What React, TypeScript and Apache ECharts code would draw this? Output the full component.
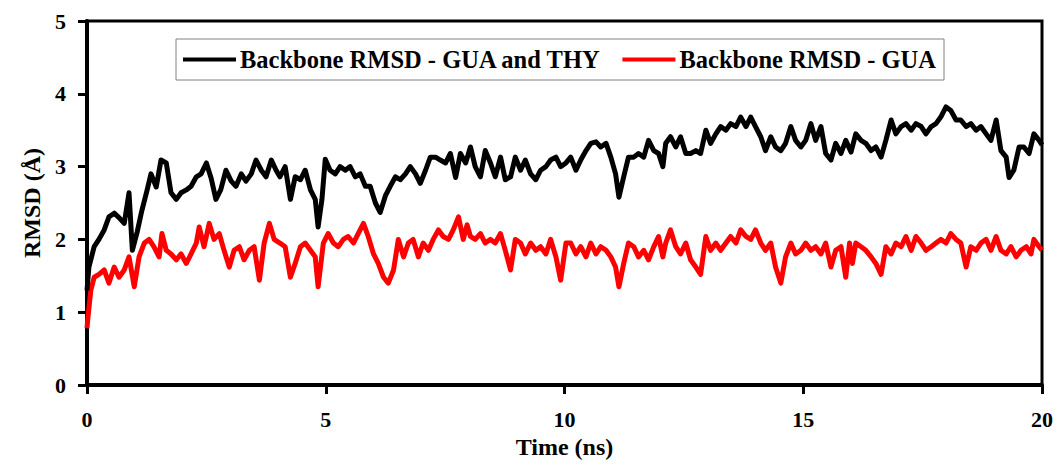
import React, { useEffect, useRef } from "react";
import * as echarts from "echarts";

const xTicks = [0, 5, 10, 15, 20];
const yTicks = [0, 1, 2, 3, 4, 5];

const seriesNames = ["Backbone RMSD - GUA and THY", "Backbone RMSD - GUA"];

const guaThyTime = [
  0.0, 0.04, 0.15, 0.25, 0.36, 0.46, 0.57, 0.67, 0.78, 0.88, 0.95, 1.05, 1.15, 1.26, 1.34, 1.45, 1.55, 1.66, 1.76, 1.87,
  1.97, 2.08, 2.18, 2.29, 2.39, 2.5, 2.6, 2.7, 2.8, 2.91, 3.02, 3.12, 3.23, 3.33, 3.44, 3.54, 3.65, 3.75, 3.86, 3.96,
  4.04, 4.15, 4.26, 4.36, 4.47, 4.57, 4.68, 4.78, 4.84, 4.92, 4.99, 5.09, 5.2, 5.3, 5.41, 5.51, 5.62, 5.72, 5.83, 5.93,
  6.04, 6.14, 6.25, 6.35, 6.46, 6.56, 6.67, 6.77, 6.88, 6.98, 7.09, 7.19, 7.3, 7.4, 7.51, 7.61, 7.72, 7.82, 7.93, 8.03,
  8.13, 8.24, 8.34, 8.45, 8.55, 8.66, 8.76, 8.87, 8.97, 9.08, 9.18, 9.29, 9.4, 9.5, 9.61, 9.71, 9.82, 9.92, 10.03, 10.13,
  10.24, 10.34, 10.45, 10.55, 10.66, 10.76, 10.87, 10.97, 11.07, 11.14, 11.24, 11.34, 11.45, 11.55, 11.66, 11.76, 11.87, 11.97, 12.06, 12.12,
  12.22, 12.33, 12.43, 12.54, 12.64, 12.75, 12.85, 12.96, 13.06, 13.17, 13.27, 13.38, 13.48, 13.59, 13.69, 13.8, 13.9, 14.0, 14.11, 14.21,
  14.32, 14.42, 14.53, 14.63, 14.74, 14.84, 14.95, 15.05, 15.16, 15.26, 15.37, 15.47, 15.58, 15.68, 15.79, 15.89, 16.0, 16.1, 16.21, 16.31,
  16.42, 16.52, 16.63, 16.73, 16.84, 16.94, 17.05, 17.15, 17.26, 17.36, 17.47, 17.57, 17.68, 17.78, 17.88, 17.99, 18.09, 18.2, 18.3, 18.41,
  18.51, 18.62, 18.72, 18.83, 18.93, 19.04, 19.14, 19.25, 19.31, 19.41, 19.52, 19.62, 19.73, 19.83, 19.94, 20.0,
];
const guaThyRmsd = [
  1.3, 1.62, 1.9, 2.0, 2.13, 2.31, 2.36, 2.3, 2.22, 2.64, 1.85, 2.1, 2.4, 2.68, 2.9, 2.72, 3.09, 3.05, 2.64, 2.55,
  2.64, 2.68, 2.73, 2.86, 2.9, 3.05, 2.84, 2.55, 2.68, 2.95, 2.8, 2.73, 2.9, 2.8, 2.9, 3.09, 2.95, 2.86, 3.09, 2.95,
  2.86, 3.0, 2.55, 2.86, 2.82, 2.95, 2.68, 2.55, 2.17, 2.55, 3.1, 2.95, 2.9, 3.0, 2.95, 3.0, 2.86, 2.9, 2.73, 2.73,
  2.5, 2.37, 2.6, 2.73, 2.86, 2.82, 2.9, 3.0, 2.9, 2.77, 2.95, 3.13, 3.13, 3.09, 3.05, 3.18, 2.85, 3.18, 3.05, 3.27,
  3.0, 2.86, 3.22, 3.05, 2.86, 3.13, 2.82, 2.86, 3.13, 2.95, 3.09, 2.9, 2.82, 2.95, 3.0, 3.09, 3.13, 3.0, 3.05, 3.13,
  2.95, 3.09, 3.22, 3.32, 3.34, 3.27, 3.32, 3.13, 2.9, 2.58, 2.86, 3.13, 3.13, 3.18, 3.13, 3.36, 3.22, 3.18, 3.0, 3.32,
  3.41, 3.27, 3.41, 3.18, 3.18, 3.22, 3.18, 3.5, 3.32, 3.45, 3.55, 3.5, 3.59, 3.55, 3.68, 3.55, 3.68, 3.55, 3.41, 3.22,
  3.41, 3.27, 3.22, 3.32, 3.55, 3.36, 3.27, 3.36, 3.59, 3.36, 3.55, 3.18, 3.09, 3.32, 3.18, 3.36, 3.2, 3.45, 3.36, 3.32,
  3.22, 3.27, 3.13, 3.36, 3.64, 3.45, 3.55, 3.59, 3.5, 3.59, 3.55, 3.45, 3.55, 3.59, 3.68, 3.82, 3.77, 3.64, 3.64, 3.55,
  3.59, 3.5, 3.55, 3.45, 3.36, 3.64, 3.22, 3.13, 2.85, 2.95, 3.27, 3.27, 3.18, 3.45, 3.36, 3.3,
];

const guaTime = [
  0.0, 0.02, 0.08, 0.15, 0.25, 0.36, 0.46, 0.57, 0.67, 0.78, 0.88, 0.99, 1.09, 1.2, 1.3, 1.4, 1.51, 1.57, 1.66, 1.76,
  1.87, 1.97, 2.08, 2.18, 2.29, 2.35, 2.45, 2.56, 2.66, 2.77, 2.87, 2.98, 3.08, 3.19, 3.29, 3.4, 3.5, 3.61, 3.71, 3.82,
  3.92, 4.04, 4.15, 4.26, 4.36, 4.47, 4.57, 4.68, 4.78, 4.84, 4.95, 5.05, 5.16, 5.26, 5.37, 5.47, 5.58, 5.68, 5.79, 5.89,
  6.0, 6.1, 6.21, 6.31, 6.42, 6.52, 6.63, 6.73, 6.83, 6.94, 7.04, 7.15, 7.25, 7.36, 7.46, 7.57, 7.67, 7.78, 7.88, 7.96,
  8.03, 8.13, 8.24, 8.34, 8.45, 8.55, 8.66, 8.76, 8.87, 8.97, 9.08, 9.18, 9.29, 9.4, 9.5, 9.61, 9.71, 9.82, 9.92, 10.03,
  10.13, 10.24, 10.34, 10.45, 10.55, 10.66, 10.76, 10.87, 10.97, 11.07, 11.14, 11.24, 11.34, 11.45, 11.55, 11.66, 11.76, 11.87, 11.97, 12.06,
  12.12, 12.22, 12.33, 12.43, 12.54, 12.64, 12.75, 12.85, 12.96, 13.06, 13.17, 13.27, 13.38, 13.48, 13.59, 13.69, 13.8, 13.9, 14.0, 14.11,
  14.21, 14.32, 14.42, 14.53, 14.63, 14.74, 14.84, 14.95, 15.05, 15.16, 15.26, 15.37, 15.47, 15.58, 15.68, 15.79, 15.89, 15.97, 16.03, 16.1,
  16.21, 16.31, 16.42, 16.52, 16.63, 16.73, 16.84, 16.94, 17.05, 17.15, 17.26, 17.36, 17.47, 17.57, 17.68, 17.78, 17.88, 17.99, 18.09, 18.2,
  18.3, 18.41, 18.51, 18.62, 18.72, 18.83, 18.93, 19.04, 19.14, 19.25, 19.35, 19.46, 19.56, 19.67, 19.77, 19.83, 19.94, 20.0,
];
const guaRmsd = [
  0.78, 0.93, 1.3, 1.48, 1.52, 1.58, 1.4, 1.62, 1.48, 1.58, 1.76, 1.35, 1.76, 1.95, 2.0, 1.9, 1.76, 2.08, 1.85, 1.8,
  1.72, 1.8, 1.67, 1.8, 1.95, 2.17, 1.9, 2.22, 2.0, 2.08, 1.85, 1.62, 1.85, 1.9, 1.72, 1.85, 1.9, 1.44, 1.95, 2.22,
  2.0, 1.95, 1.9, 1.48, 1.67, 1.9, 1.95, 1.85, 1.76, 1.35, 1.95, 2.08, 1.95, 1.9, 2.0, 2.04, 1.95, 2.08, 2.22, 2.04,
  1.8, 1.67, 1.48, 1.4, 1.58, 2.0, 1.76, 1.95, 2.0, 1.76, 1.95, 1.85, 2.0, 2.13, 2.04, 2.0, 2.13, 2.31, 2.0, 2.2,
  2.04, 2.0, 2.08, 1.95, 2.0, 1.95, 2.08, 1.85, 1.58, 2.0, 1.95, 1.8, 1.95, 1.85, 1.9, 1.8, 2.0, 1.76, 1.44, 1.95,
  1.95, 1.8, 1.9, 1.76, 1.95, 1.8, 1.9, 1.85, 1.76, 1.62, 1.35, 1.67, 1.95, 1.9, 1.76, 1.85, 1.72, 1.9, 2.04, 1.76,
  1.95, 2.13, 1.9, 1.8, 1.95, 1.72, 1.62, 1.52, 2.04, 1.85, 1.95, 1.85, 1.95, 2.04, 1.95, 2.13, 2.04, 2.0, 2.13, 1.95,
  1.85, 1.95, 1.62, 1.4, 1.76, 1.95, 1.8, 1.85, 1.95, 1.85, 1.9, 1.8, 1.95, 1.62, 1.85, 1.9, 1.48, 1.95, 1.67, 1.95,
  1.9, 1.85, 1.76, 1.67, 1.52, 1.9, 1.8, 1.95, 1.9, 2.04, 1.85, 2.04, 1.95, 1.85, 1.9, 1.95, 2.0, 1.95, 2.08, 2.0,
  1.95, 1.62, 1.9, 1.85, 1.95, 2.0, 1.85, 2.04, 1.85, 1.8, 1.9, 1.76, 1.85, 1.9, 1.8, 2.0, 1.9, 1.85,
];

const FONT = "'Liberation Serif', 'Times New Roman', serif";

export default function App() {
  const ref = useRef<HTMLDivElement>(null);

  useEffect(() => {
    if (!ref.current) return;
    const chart = echarts.init(ref.current, undefined, { renderer: "svg" });
    const pairs = (t: number[], v: number[]) => t.map((x, i) => [x, v[i]]);
    chart.setOption({
      animation: false,
      backgroundColor: "#ffffff",
      grid: {
        left: 87,
        right: 15,
        top: 21,
        bottom: 81,
        show: true,
        borderColor: "#000",
        borderWidth: 3,
        backgroundColor: "transparent",
      },
      legend: {
        data: seriesNames,
        left: 176,
        top: 39,
        padding: [8, 8, 8, 7],
        itemGap: 21,
        itemWidth: 53,
        itemHeight: 4,
        icon: "rect",
        borderColor: "#808080",
        borderWidth: 1,
        backgroundColor: "#ffffff",
        textStyle: {
          fontFamily: FONT,
          fontWeight: "bold",
          fontSize: 24.5,
          color: "#000",
          padding: [0, 0, 0, -1],
        },
      },
      xAxis: {
        type: "value",
        min: xTicks[0],
        max: xTicks[xTicks.length - 1],
        interval: 5,
        name: "Time (ns)",
        nameLocation: "middle",
        nameGap: 50,
        nameTextStyle: { fontFamily: FONT, fontWeight: "bold", fontSize: 24, color: "#000" },
        axisLine: { show: true, onZero: false, lineStyle: { color: "#000", width: 4 } },
        axisTick: { show: true, inside: false, length: 9, lineStyle: { color: "#000", width: 3 } },
        axisLabel: { margin: 23, fontFamily: FONT, fontWeight: "bold", fontSize: 22, color: "#000" },
        splitLine: { show: false },
      },
      yAxis: {
        type: "value",
        min: yTicks[0],
        max: yTicks[yTicks.length - 1],
        interval: 1,
        name: "RMSD (Å)",
        nameLocation: "middle",
        nameGap: 43,
        nameTextStyle: { fontFamily: FONT, fontWeight: "bold", fontSize: 24, color: "#000" },
        axisLine: { show: true, onZero: false, lineStyle: { color: "#000", width: 4 } },
        axisTick: { show: true, inside: false, length: 9, lineStyle: { color: "#000", width: 3 } },
        axisLabel: { margin: 21, fontFamily: FONT, fontWeight: "bold", fontSize: 22, color: "#000" },
        splitLine: { show: false },
      },
      series: [
        {
          name: seriesNames[1],
          type: "line",
          data: pairs(guaTime, guaRmsd),
          showSymbol: false,
          symbol: "none",
          color: "#ff0000",
          lineStyle: { color: "#ff0000", width: 5, join: "round" },
        },
        {
          name: seriesNames[0],
          type: "line",
          data: pairs(guaThyTime, guaThyRmsd),
          showSymbol: false,
          symbol: "none",
          color: "#000000",
          lineStyle: { color: "#000000", width: 5, join: "round" },
        },
      ],
    });
    return () => chart.dispose();
  }, []);

  return (
    <div
      ref={ref}
      style={{ position: "fixed", left: 0, top: 0, width: 1057, height: 466, background: "#fff" }}
    />
  );
}
